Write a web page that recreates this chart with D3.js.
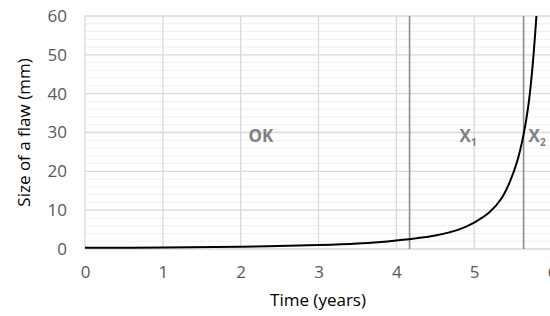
<!DOCTYPE html>
<html>
<head>
<meta charset="utf-8">
<script src="https://cdnjs.cloudflare.com/ajax/libs/d3/7.8.5/d3.min.js"></script>
<style>
  body { margin: 0; background: #fff; }
  svg { display: block; font-family: "Open Sans", sans-serif; }
</style>
</head>
<body>
<div id="chart"></div>
<script>
// flaw size over time
const years = [0, 1, 2, 3, 3.5, 4, 4.5, 4.8, 5, 5.2, 5.35, 5.45, 5.55, 5.63, 5.7, 5.75, 5.8];
const flawMm = [0.3, 0.4, 0.6, 1.0, 1.4, 2.2, 3.5, 5.0, 6.8, 9.5, 13.0, 16.9, 22.4, 29, 37.5, 47, 60];
const xTicks = [0, 1, 2, 3, 4, 5, 6];
const yTicks = [0, 10, 20, 30, 40, 50, 60];
const limits = [{ name: "X", sub: "1", t: 4.17 }, { name: "X", sub: "2", t: 5.635 }];
const zones = [{ label: "OK", t: 2.1, a: 30 }];

const width = 550, height = 316;
const margin = { top: 16, right: -2, bottom: 67, left: 85 };

const svg = d3.select("#chart").append("svg")
  .attr("width", width)
  .attr("height", height);

const x = d3.scaleLinear().domain([0, 6]).range([margin.left, width - margin.right]);
const y = d3.scaleLinear().domain([0, 60]).range([height - margin.bottom, margin.top]);

// minor gridlines every 2 mm
svg.append("g").selectAll("line")
  .data(d3.range(0, 61, 2).filter(d => d % 10 !== 0))
  .enter().append("line")
    .attr("x1", x(0)).attr("x2", x(6))
    .attr("y1", d => y(d)).attr("y2", d => y(d))
    .attr("stroke", "#efefef").attr("stroke-width", 1);

// major gridlines
svg.append("g").selectAll("line")
  .data(yTicks)
  .enter().append("line")
    .attr("x1", x(0)).attr("x2", x(6))
    .attr("y1", d => y(d)).attr("y2", d => y(d))
    .attr("stroke", "#d9d9d9").attr("stroke-width", 1.3);

svg.append("g").selectAll("line")
  .data(xTicks)
  .enter().append("line")
    .attr("x1", d => x(d)).attr("x2", d => x(d))
    .attr("y1", y(0)).attr("y2", y(60))
    .attr("stroke", "#d9d9d9").attr("stroke-width", 1.3);

// axis labels
const yAxis = d3.axisLeft(y).tickValues(yTicks).tickSize(0).tickPadding(18).tickFormat(d3.format("d"));
const gy = svg.append("g").attr("transform", `translate(${margin.left},0)`).call(yAxis);
gy.select(".domain").remove();
gy.selectAll("text").attr("fill", "#595959").style("font-size", "17px").style("font-family", "Open Sans");

const xAxis = d3.axisBottom(x).tickValues(xTicks).tickSize(0).tickPadding(17).tickFormat(d3.format("d"));
const gx = svg.append("g").attr("transform", `translate(0,${y(0)})`).call(xAxis);
gx.select(".domain").remove();
gx.selectAll("text").attr("fill", "#595959").style("font-size", "17px").style("font-family", "Open Sans");

// limit lines
svg.append("g").selectAll("line")
  .data(limits)
  .enter().append("line")
    .attr("x1", d => x(d.t)).attr("x2", d => x(d.t))
    .attr("y1", y(0)).attr("y2", y(60))
    .attr("stroke", "#8c8c8c").attr("stroke-width", 1.6);

// curve
svg.append("clipPath").attr("id", "plot")
  .append("rect").attr("x", x(0)).attr("y", y(60)).attr("width", x(6) - x(0)).attr("height", y(0) - y(60));

const line = d3.line()
  .x((d, i) => x(years[i]))
  .y(d => y(d))
  .curve(d3.curveCatmullRom.alpha(0.5));

svg.append("path")
  .datum(flawMm)
  .attr("clip-path", "url(#plot)")
  .attr("d", line)
  .attr("fill", "none")
  .attr("stroke", "#000")
  .attr("stroke-width", 2);

// region labels
svg.append("g").selectAll("text")
  .data(zones)
  .enter().append("text")
    .attr("x", d => x(d.t)).attr("y", d => y(d.a) + 9)
    .attr("fill", "#808080").style("font-size", "17px").style("font-weight", "bold")
    .text(d => d.label);

const lim = svg.append("g").selectAll("text")
  .data(limits)
  .enter().append("text")
    .attr("x", (d, i) => i === 0 ? x(d.t) + 50 : x(d.t) + 5)
    .attr("y", y(30) + 9)
    .attr("fill", "#808080").style("font-size", "17px").style("font-weight", "bold");
lim.append("tspan").text(d => d.name);
lim.append("tspan").attr("dy", 4).style("font-size", "10px").text(d => d.sub);

// axis titles
svg.append("text")
  .attr("x", 318).attr("y", 306)
  .attr("text-anchor", "middle")
  .attr("fill", "#000").style("font-size", "17px")
  .text("Time (years)");

svg.append("text")
  .attr("transform", `translate(30,${(y(0) + y(60)) / 2}) rotate(-90)`)
  .attr("text-anchor", "middle")
  .attr("fill", "#000").style("font-size", "17px")
  .text("Size of a flaw (mm)");
</script>
</body>
</html>
